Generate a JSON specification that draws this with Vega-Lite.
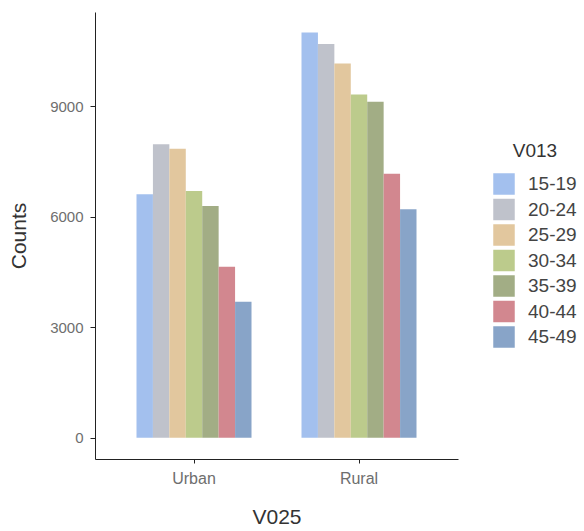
{
  "$schema": "https://vega.github.io/schema/vega-lite/v6.json",
  "width": 363,
  "height": 447,
  "autosize": "none",
  "padding": {"left": 95, "top": 12, "right": 126, "bottom": 72},
  "background": "white",
  "config": {
    "view": {"stroke": null},
    "font": "Liberation Sans"
  },
  "data": {
    "values": [
      {"V025": "Urban", "V013": "15-19", "Counts": 6610},
      {"V025": "Urban", "V013": "20-24", "Counts": 7970},
      {"V025": "Urban", "V013": "25-29", "Counts": 7845},
      {"V025": "Urban", "V013": "30-34", "Counts": 6700},
      {"V025": "Urban", "V013": "35-39", "Counts": 6290},
      {"V025": "Urban", "V013": "40-44", "Counts": 4640},
      {"V025": "Urban", "V013": "45-49", "Counts": 3690},
      {"V025": "Rural", "V013": "15-19", "Counts": 11000},
      {"V025": "Rural", "V013": "20-24", "Counts": 10690},
      {"V025": "Rural", "V013": "25-29", "Counts": 10160},
      {"V025": "Rural", "V013": "30-34", "Counts": 9320},
      {"V025": "Rural", "V013": "35-39", "Counts": 9120},
      {"V025": "Rural", "V013": "40-44", "Counts": 7165},
      {"V025": "Rural", "V013": "45-49", "Counts": 6200}
    ]
  },
  "mark": {"type": "bar"},
  "encoding": {
    "x": {
      "field": "V025",
      "type": "nominal",
      "sort": ["Urban", "Rural"],
      "scale": {"paddingInner": 0.303, "paddingOuter": 0.2515},
      "axis": {
        "title": "V025",
        "labelAngle": 0,
        "labelFontSize": 16,
        "labelColor": "#6e6e6e",
        "labelPadding": 7,
        "titleFontSize": 21,
        "titleFontWeight": "normal",
        "titleColor": "#333333",
        "titlePadding": 20,
        "domainColor": "#222222",
        "tickColor": "#222222",
        "tickSize": 4
      }
    },
    "xOffset": {
      "field": "V013",
      "type": "nominal",
      "sort": ["15-19", "20-24", "25-29", "30-34", "35-39", "40-44", "45-49"],
      "scale": {"paddingInner": 0, "paddingOuter": 0}
    },
    "y": {
      "field": "Counts",
      "type": "quantitative",
      "scale": {"domain": [-580, 11560], "nice": false, "zero": false},
      "axis": {
        "title": "Counts",
        "values": [0, 3000, 6000, 9000],
        "format": "d",
        "grid": false,
        "labelFontSize": 15,
        "labelColor": "#6e6e6e",
        "labelPadding": 7,
        "titleFontSize": 21,
        "titleFontWeight": "normal",
        "titleColor": "#333333",
        "titlePadding": 20,
        "domainColor": "#222222",
        "tickColor": "#222222",
        "tickSize": 5
      }
    },
    "color": {
      "field": "V013",
      "type": "nominal",
      "scale": {
        "domain": ["15-19", "20-24", "25-29", "30-34", "35-39", "40-44", "45-49"],
        "range": ["#a3c0ee", "#bfc2cb", "#e2c79e", "#bccb8c", "#a2ad85", "#d2878f", "#88a4c8"]
      },
      "legend": {
        "title": "V013",
        "orient": "none",
        "legendX": 398,
        "legendY": 130,
        "titleFontSize": 19,
        "titleFontWeight": "normal",
        "titleColor": "#333333",
        "titleAnchor": "middle",
        "titlePadding": 12,
        "labelFontSize": 19,
        "labelColor": "#444444",
        "labelOffset": 13,
        "symbolType": "square",
        "symbolSize": 462,
        "symbolStrokeWidth": 0,
        "symbolOpacity": 1,
        "rowPadding": 3.5
      }
    }
  }
}
